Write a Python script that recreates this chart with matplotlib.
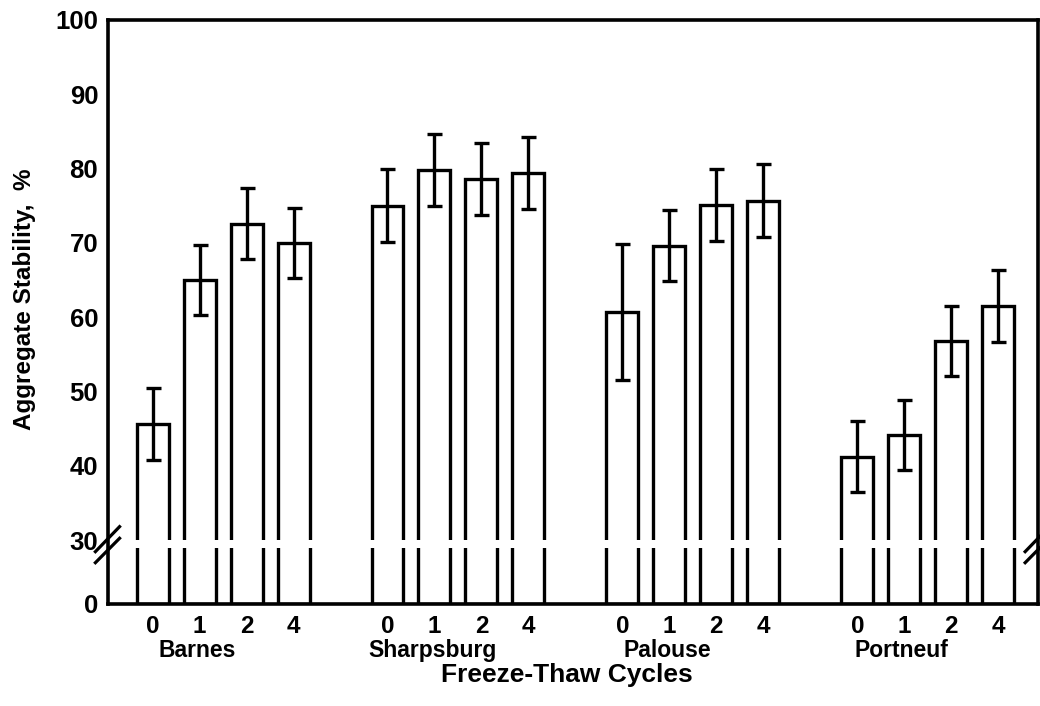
#!/usr/bin/env python3
"""Aggregate stability vs freeze-thaw cycles, broken y axis (0 / 30-100)."""

import numpy as np
import matplotlib
matplotlib.use('Agg')
import matplotlib.pyplot as plt

plt.rcParams['font.family'] = ['Liberation Sans', 'DejaVu Sans']
plt.rcParams['font.weight'] = 'bold'

# dados
solos = ['Barnes', 'Sharpsburg', 'Palouse', 'Portneuf']
ciclos = ['0', '1', '2', '4']

barnes = [45.6, 65.0, 72.6, 70.0]
sharpsburg = [75.0, 79.8, 78.6, 79.4]
palouse = [60.7, 69.6, 75.1, 75.7]
portneuf = [41.2, 44.1, 56.8, 61.5]

barnes_err = [4.8, 4.7, 4.8, 4.7]
sharpsburg_err = [4.9, 4.9, 4.9, 4.9]
palouse_err = [9.1, 4.8, 4.8, 4.9]
portneuf_err = [4.8, 4.7, 4.7, 4.8]

medias = [barnes, sharpsburg, palouse, portneuf]
erros = [barnes_err, sharpsburg_err, palouse_err, portneuf_err]

# escala quebrada: 0-30 comprimido, 30-100 linear
K = 0.287


def fwd(y):
    y = np.asarray(y, dtype=float)
    return np.where(y >= 30, y, 30 - (30 - y) * K)


def inv(u):
    u = np.asarray(u, dtype=float)
    return np.where(u >= 30, u, 30 - (30 - u) / K)


fig = plt.figure(figsize=(10.4, 7.06), dpi=100)
ax = fig.add_axes([0.1038, 0.1445, 0.894, 0.8272])
ax.set_yscale('function', functions=(fwd, inv))

LW = 2.4
posicoes = []
for g, (vals, errs) in enumerate(zip(medias, erros)):
    x = np.arange(len(ciclos)) + g * 5
    posicoes.extend(x)
    ax.bar(x, vals, width=0.68, facecolor='white', edgecolor='black',
           linewidth=LW, zorder=2)
    ax.errorbar(x, vals, yerr=errs, fmt='none', ecolor='black',
                elinewidth=LW, capsize=5.4, capthick=LW, zorder=3)

# faixa branca da quebra
ax.axhspan(26.2, 30.0, facecolor='white', edgecolor='none', zorder=2.2)

ax.set_xlim(-0.95, 18.84)
ax.set_ylim(0, 100)

for s in ax.spines.values():
    s.set_linewidth(2.6)
    s.set_zorder(4)

ax.set_yticks([0, 30, 40, 50, 60, 70, 80, 90, 100])
ax.set_yticklabels(['0', '30', '40', '50', '60', '70', '80', '90', '100'])
ax.set_yticks([40, 50, 60, 70, 80, 90], minor=True)
ax.tick_params(axis='y', which='major', length=0, pad=7, labelsize=18.5)
ax.tick_params(axis='y', which='minor', direction='in', length=8, width=2.3,
               left=True, right=True)

ax.set_xticks(posicoes)
ax.set_xticklabels(ciclos * len(solos))
ax.tick_params(axis='x', which='both', length=0, pad=8, labelsize=17.5)

# nomes dos solos
for g, nome in enumerate(solos):
    ax.text(g * 5 + 0.95, -0.079, nome, transform=ax.get_xaxis_transform(),
            ha='center', va='center', fontsize=16.5, fontweight='bold')

ax.text(0.494, -0.122, 'Freeze-Thaw Cycles', transform=ax.transAxes,
        ha='center', va='center', fontsize=19, fontweight='bold')
fig.text(0.024, 0.576, 'Aggregate Stability,  %', rotation=90,
         ha='center', va='center', fontsize=17.5, fontweight='bold')

# marcas de quebra nos dois lados
for xc in (0.0, 1.0):
    for y0, y1 in ((0.0896, 0.1324), (0.0707, 0.1125)):
        ax.plot([xc - 0.0135, xc + 0.0125], [y0, y1], color='black',
                linewidth=2.3, transform=ax.transAxes, clip_on=False,
                zorder=5)

fig.savefig('out.png', dpi=100)
